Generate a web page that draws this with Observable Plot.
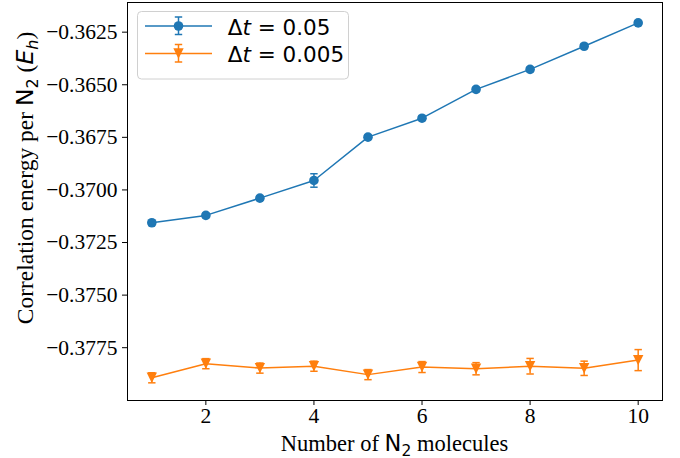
<!DOCTYPE html>
<html><head><meta charset="utf-8">
<script src="https://cdn.jsdelivr.net/npm/d3@7"></script>
<script src="https://cdn.jsdelivr.net/npm/@observablehq/plot@0.6"></script>
<style>body{margin:0;background:#fff}</style>
</head><body><div id="chart"></div>
<script>
const nMolecules = [1, 2, 3, 4, 5, 6, 7, 8, 9, 10];
const energyDt005 = [-0.37156, -0.37121, -0.37039, -0.36955, -0.36749, -0.36659, -0.36522, -0.36427, -0.36317, -0.36206];
const errDt005 = [0.0001, 0.0001, 0.0001, 0.00032, 0.0001, 0.0001, 0.0001, 0.0001, 0.0001, 0.0001];
const energyDt0005 = [-0.37893, -0.37826, -0.37847, -0.37838, -0.37878, -0.37842, -0.37850, -0.37838, -0.37848, -0.37809];
const errDt0005 = [0.00024, 0.00024, 0.00024, 0.00024, 0.00024, 0.00026, 0.00029, 0.00037, 0.00034, 0.0005];
const xTicks = [2, 4, 6, 8, 10];
const yTicks = [-0.3775, -0.375, -0.3725, -0.37, -0.3675, -0.365, -0.3625];
const seriesNames = ["0.05", "0.005"];
const seriesColors = ["#1f77b4", "#ff7f0e"];

const rowsA = nMolecules.map((n, i) => ({n, e: energyDt005[i], err: errDt005[i]}));
const rowsB = nMolecules.map((n, i) => ({n, e: energyDt0005[i], err: errDt0005[i]}));

const capSymbol = {draw(ctx, size) { const w = Math.sqrt(size / Math.PI); ctx.moveTo(-w, 0); ctx.lineTo(w, 0); }};
const triDown = {draw(ctx, size) { const s = Math.sqrt(size / Math.PI); ctx.moveTo(0, s); ctx.lineTo(-s, -s); ctx.lineTo(s, -s); ctx.closePath(); }};

function seriesMarks(rows, color, markerOpts) {
  return [
    Plot.line(rows, {x: "n", y: "e", stroke: color, strokeWidth: 1.5}),
    Plot.ruleX(rows, {x: "n", y1: d => d.e - d.err, y2: d => d.e + d.err, stroke: color, strokeWidth: 1.5}),
    Plot.dot(rows, {x: "n", y: "e", fill: color, stroke: "none", ...markerOpts}),
    Plot.dot(rows, {x: "n", y: d => d.e + d.err, symbol: capSymbol, r: 3.7, stroke: color, strokeWidth: 1.5, fill: "none"}),
    Plot.dot(rows, {x: "n", y: d => d.e - d.err, symbol: capSymbol, r: 3.7, stroke: color, strokeWidth: 1.5, fill: "none"})
  ];
}

const serif = "'Liberation Serif', serif";
const sans = "'DejaVu Sans', sans-serif";

const chart = Plot.plot({
  width: 680, height: 458,
  marginLeft: 127, marginRight: 18, marginTop: 2, marginBottom: 58,
  style: {fontFamily: serif, fontSize: "18px", background: "#fff", color: "#000"},
  x: {domain: [0.55, 10.45]},
  y: {domain: [-0.38001, -0.36109]},
  marks: [
    Plot.axisX({ticks: xTicks, tickSize: 5, tickPadding: 2, label: null, fontSize: 21.5, fontFamily: serif}),
    Plot.axisY({ticks: yTicks, tickSize: 5, tickPadding: 5, tickFormat: d3.format(".4f"), label: null, fontSize: 21.5, fontFamily: serif}),
    ...seriesMarks(rowsA, seriesColors[0], {r: 4.8}),
    ...seriesMarks(rowsB, seriesColors[1], {r: 5.2, symbol: triDown}),
    Plot.frame({stroke: "#000", strokeWidth: 1})
  ]
});
document.getElementById("chart").appendChild(chart);

const svg = d3.select(chart);

// x axis label
const xl = svg.append("text").attr("x", 394.5).attr("y", 451).attr("text-anchor", "middle")
  .attr("font-family", serif).attr("font-size", 22.5).attr("fill", "#000");
xl.append("tspan").text("Number of ");
xl.append("tspan").attr("font-family", sans).text("N");
xl.append("tspan").attr("font-family", sans).attr("font-size", 15.5).attr("dy", 4.5).text("2");
xl.append("tspan").attr("dy", -4.5).text(" molecules");

// y axis label
const yl = svg.append("text").attr("transform", "translate(33,178) rotate(-90)").attr("text-anchor", "middle")
  .attr("font-family", serif).attr("font-size", 23.5).attr("fill", "#000");
yl.append("tspan").text("Correlation energy per ");
yl.append("tspan").attr("font-family", sans).text("N");
yl.append("tspan").attr("font-family", sans).attr("font-size", 16).attr("dy", 4.5).text("2");
yl.append("tspan").attr("dy", -4.5).text(" (");
yl.append("tspan").attr("font-family", sans).attr("font-style", "italic").text("E");
yl.append("tspan").attr("font-family", sans).attr("font-style", "italic").attr("font-size", 16).attr("dy", 4.5).text("h");
yl.append("tspan").attr("dy", -4.5).text(")");

// legend
const lg = svg.append("g");
lg.append("rect").attr("x", 137.5).attr("y", 11.5).attr("width", 211).attr("height", 67.5).attr("rx", 4)
  .attr("fill", "#fff").attr("fill-opacity", 0.8).attr("stroke", "#d0d0d0").attr("stroke-width", 1);
const rowsY = [26, 53.5];
seriesNames.forEach((name, i) => {
  const y = rowsY[i], c = seriesColors[i], cx = 178.5;
  lg.append("line").attr("x1", 145).attr("x2", 212).attr("y1", y).attr("y2", y).attr("stroke", c).attr("stroke-width", 1.5);
  lg.append("line").attr("x1", cx).attr("x2", cx).attr("y1", y - 9).attr("y2", y + 8.5).attr("stroke", c).attr("stroke-width", 1.5);
  [y - 9, y + 8.5].forEach(yy => lg.append("line").attr("x1", cx - 3.7).attr("x2", cx + 3.7).attr("y1", yy).attr("y2", yy).attr("stroke", c).attr("stroke-width", 1.5));
  if (i === 0) lg.append("circle").attr("cx", cx).attr("cy", y).attr("r", 4.8).attr("fill", c);
  else lg.append("path").attr("d", `M${cx},${y + 5.2}L${cx - 5.2},${y - 5.2}L${cx + 5.2},${y - 5.2}Z`).attr("fill", c);
  const t = lg.append("text").attr("x", 227.7).attr("y", y + 8.5).attr("text-anchor", "start")
    .attr("font-family", sans).attr("font-size", 21.5).attr("fill", "#000");
  t.append("tspan").text("Δ");
  t.append("tspan").attr("font-style", "italic").text("t");
  t.append("tspan").text(" = " + name);
});
</script>
</body></html>
